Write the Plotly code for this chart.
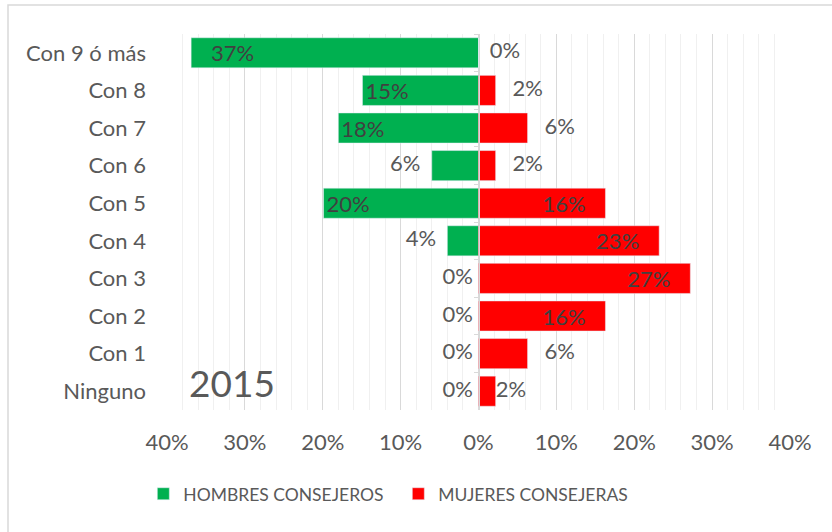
import plotly.graph_objects as go

categories = ["Con 9 ó más", "Con 8", "Con 7", "Con 6", "Con 5", "Con 4",
              "Con 3", "Con 2", "Con 1", "Ninguno"]
hombres = [36.9, 14.9, 18.0, 6.0, 19.9, 4.0, 0.0, 0.0, 0.0, 0.0]
mujeres = [0.0, 2.2, 6.3, 2.2, 16.3, 23.2, 27.2, 16.3, 6.3, 2.2]
tick_vals = [-40, -30, -20, -10, 0, 10, 20, 30, 40]
tick_text = ["40%", "30%", "20%", "10%", "0%", "10%", "20%", "30%", "40%"]
year_label = "2015"

GREEN = "#00b050"
RED = "#ff0000"
FONT = "Lato"
GREY_TXT = "#595959"
DARK_TXT = "#404040"
NB = "\u00a0"

# label placement styling (inside bars when the bar is long enough)
inside_threshold = 10
h_inside_pad = [3, 0, 0, 0, 0, 0, 0, 0, 0, 0]
h_out_pad = [1, 1, 1, 2, 1, 2, 1, 1, 1, 1]
m_inside_pad = [3] * 10
m_out_pad = [2, 3, 3, 3, 3, 3, 3, 3, 3, 0]

def lbl(v):
    return f"{round(v)}%"

h_in_text = [(NB * p + lbl(v)) if v >= inside_threshold else "" for v, p in zip(hombres, h_inside_pad)]
m_in_text = [(lbl(v) + NB * p) if v >= inside_threshold else "" for v, p in zip(mujeres, m_inside_pad)]

fig = go.Figure()
fig.add_trace(go.Bar(
    y=categories, x=[-v for v in hombres], orientation="h", name="HOMBRES CONSEJEROS",
    marker=dict(color=GREEN), width=0.8, text=h_in_text, textposition="inside",
    insidetextanchor="end", textangle=0, constraintext="none",
    insidetextfont=dict(family=FONT, size=22, color=DARK_TXT), hoverinfo="skip"))
fig.add_trace(go.Bar(
    y=categories, x=mujeres, orientation="h", name="MUJERES CONSEJERAS",
    marker=dict(color=RED), width=0.8, text=m_in_text, textposition="inside",
    insidetextanchor="end", textangle=0, constraintext="none",
    insidetextfont=dict(family=FONT, size=22, color=DARK_TXT), hoverinfo="skip"))

# outside labels
h_out = [(i, v, p) for i, (v, p) in enumerate(zip(hombres, h_out_pad)) if v < inside_threshold]
m_out = [(i, v, p) for i, (v, p) in enumerate(zip(mujeres, m_out_pad)) if v < inside_threshold]
fig.add_trace(go.Scatter(
    y=[categories[i] for i, _, _ in h_out], x=[-v for _, v, _ in h_out],
    text=[lbl(v) + NB * p for _, v, p in h_out], mode="text", textposition="middle left",
    textfont=dict(family=FONT, size=22, color=GREY_TXT), showlegend=False,
    hoverinfo="skip", cliponaxis=False))
fig.add_trace(go.Scatter(
    y=[categories[i] for i, _, _ in m_out], x=[v for _, v, _ in m_out],
    text=[NB * p + lbl(v) for _, v, p in m_out], mode="text", textposition="middle right",
    textfont=dict(family=FONT, size=22, color=GREY_TXT), showlegend=False,
    hoverinfo="skip", cliponaxis=False))
# invisible trace to drive the axis at zero
fig.add_trace(go.Scatter(
    y=categories, x=[0] * len(categories), yaxis="y2", mode="markers",
    marker=dict(opacity=0, size=1), showlegend=False, hoverinfo="skip"))

n = len(categories)
fig.update_layout(
    width=832, height=532,
    margin=dict(l=167, r=42, t=34, b=122),
    paper_bgcolor="white", plot_bgcolor="white",
    barmode="relative", bargap=0.2,
    font=dict(family=FONT, size=22, color=GREY_TXT),
    xaxis=dict(range=[-40, 40], tickvals=tick_vals, ticktext=tick_text,
               showgrid=True, gridcolor="#d9d9d9", gridwidth=1,
               minor=dict(dtick=2, showgrid=True, gridcolor="#f0f0f0", gridwidth=1),
               zeroline=False, showline=False, ticks="",
               tickfont=dict(family=FONT, size=22, color=GREY_TXT),
               ticklabelstandoff=17, fixedrange=True),
    yaxis=dict(categoryorder="array", categoryarray=categories, range=[n - 0.5, -0.5],
               showgrid=False, zeroline=False, showline=False, ticks="",
               tickfont=dict(family=FONT, size=22, color=GREY_TXT),
               ticklabelstandoff=20, fixedrange=True),
    yaxis2=dict(overlaying="y", anchor="free", position=0.5,
                categoryorder="array", categoryarray=categories, range=[n - 0.5, -0.5],
                showticklabels=False, ticks="outside", tickson="boundaries", ticklen=5,
                tickcolor="#d9d9d9", showline=True, linecolor="#d9d9d9", linewidth=1,
                showgrid=False, zeroline=False, fixedrange=True),
    legend=dict(orientation="h", x=-0.038, xanchor="left", y=-0.223, yanchor="middle",
                font=dict(family=FONT, size=17.5, color=GREY_TXT), traceorder="normal",
                itemwidth=30, entrywidth=210, entrywidthmode="pixels"),
    showlegend=True,
    annotations=[dict(text=year_label, xref="paper", yref="paper", x=0.104, y=0.072,
                      xanchor="center", yanchor="middle", showarrow=False,
                      font=dict(family=FONT, size=37, color=GREY_TXT))],
    shapes=[dict(type="rect", xref="paper", yref="paper",
                 x0=(8 - 167) / 623, x1=(840 - 167) / 623,
                 y0=(410 - 540) / 376, y1=1 + (34 - 5) / 376,
                 line=dict(color="#d9d9d9", width=1.5), fillcolor="rgba(0,0,0,0)",
                 layer="below")],
)

fig.write_html("out.html", config={"displayModeBar": False},
               post_script="document.body.style.margin='0px';")
